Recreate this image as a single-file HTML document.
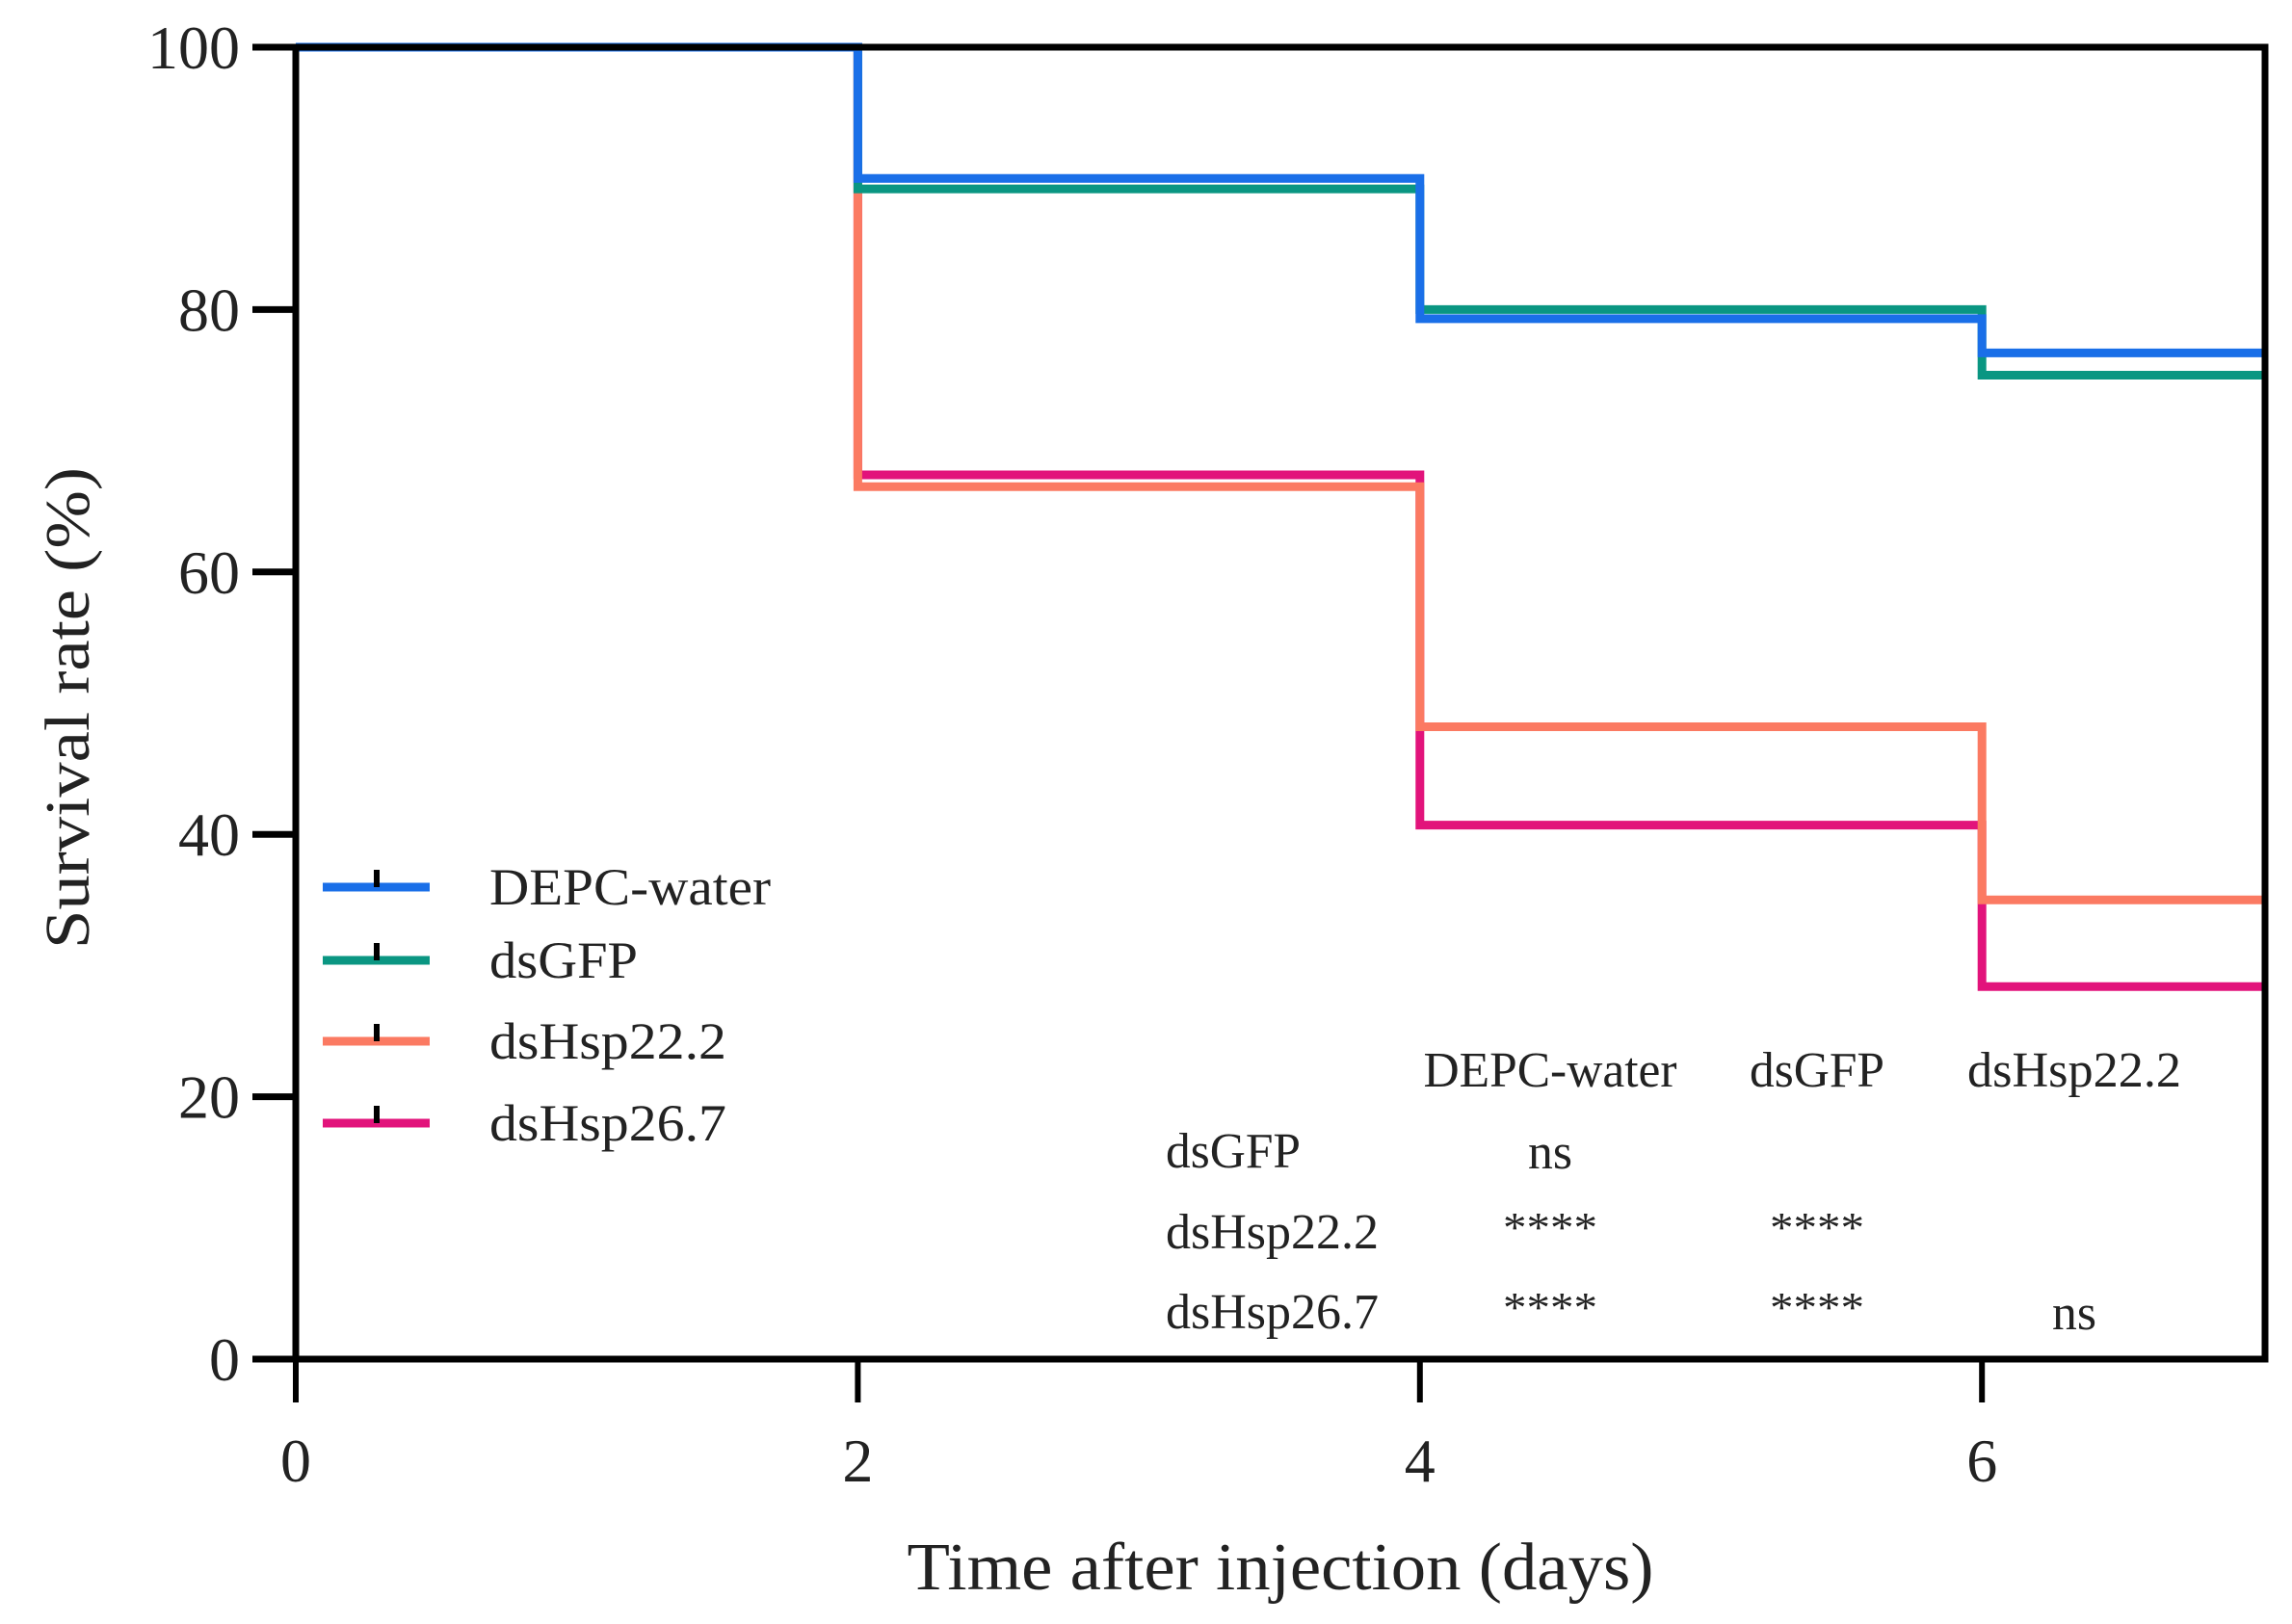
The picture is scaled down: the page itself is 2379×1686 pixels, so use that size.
<!DOCTYPE html>
<html><head><meta charset="utf-8"><style>
html,body{margin:0;padding:0;background:#fff;}
svg{display:block;font-family:"Liberation Serif",serif;}
</style></head><body>
<svg id="chart" width="2379" height="1686" viewBox="0 0 2379 1686" xmlns="http://www.w3.org/2000/svg">
<g id="series"></g>
<g id="axes"></g>
<g id="legend"></g>
<g id="stats"></g>
</svg>
<script>
const times = [0, 2, 4, 6, 7];
const seriesNames = ["DEPC-water", "dsGFP", "dsHsp22.2", "dsHsp26.7"];
const depcValues = [100, 90, 79.3, 76.7];
const gfpValues = [100, 89.2, 80, 75];
const hsp222Values = [100, 66.5, 48.2, 35];
const hsp267Values = [100, 67.4, 40.7, 28.4];
const seriesColors = ["#1a6fe8", "#0a9682", "#fb7a62", "#e2137b"];
const xTicks = [0, 2, 4, 6];
const yTicks = [0, 20, 40, 60, 80, 100];
const tableCols = ["DEPC-water", "dsGFP", "dsHsp22.2"];
const tableRows = ["dsGFP", "dsHsp22.2", "dsHsp26.7"];
const tableCells = [["ns", "", ""], ["****", "****", ""], ["****", "****", "ns"]];

const NS = "http://www.w3.org/2000/svg";
const X0 = 307, X1 = 2351, Y0 = 1411, Y1 = 49;
const xScale = t => X0 + t * 291.7;
const yScale = v => Y0 - v / 100 * (Y0 - Y1);
function mk(tag, attrs, parent) { const e = document.createElementNS(NS, tag); for (const k in attrs) e.setAttribute(k, attrs[k]); parent.appendChild(e); return e; }

const allVals = [depcValues, gfpValues, hsp222Values, hsp267Values];
const gS = document.getElementById("series");
[3, 2, 1, 0].forEach(i => {
  const v = allVals[i];
  let d = `M${xScale(times[0])},${yScale(v[0])}`;
  for (let k = 1; k < times.length; k++) {
    d += ` H${Math.min(xScale(times[k]), X1)}`;
    if (k < v.length) d += ` V${yScale(v[k])}`;
  }
  const p = mk("path", { d: d, fill: "none", stroke: seriesColors[i], "stroke-width": 9 }, gS);
  
  
});

const gA = document.getElementById("axes");
const frame = mk("rect", { x: X0, y: Y1, width: X1 - X0, height: Y0 - Y1, fill: "none", stroke: "#000", "stroke-width": 7 }, gA);


yTicks.forEach(v => {
  const l = mk("line", { x1: 262, x2: X0, y1: yScale(v), y2: yScale(v), stroke: "#000", "stroke-width": 7 }, gA);
  
  
  const t = mk("text", { x: 249, y: yScale(v) + 22, "text-anchor": "end", "font-size": 64, fill: "#222" }, gA);
  t.textContent = v;
  
  
});
xTicks.forEach(v => {
  const l = mk("line", { x1: xScale(v), x2: xScale(v), y1: Y0, y2: 1456, stroke: "#000", "stroke-width": 6 }, gA);
  
  
  const t = mk("text", { x: xScale(v), y: 1538, "text-anchor": "middle", "font-size": 64, fill: "#222" }, gA);
  t.textContent = v;
  
  
});
const xt = mk("text", { x: 1329, y: 1650, "text-anchor": "middle", "font-size": 70, fill: "#222", textLength: 775, lengthAdjust: "spacingAndGlyphs" }, gA);
xt.textContent = "Time after injection (days)";


const yt = mk("text", { x: 0, y: 0, "text-anchor": "middle", "font-size": 66, fill: "#222", transform: "translate(92,735) rotate(-90)", textLength: 500, lengthAdjust: "spacingAndGlyphs" }, gA);
yt.textContent = "Survival rate (%)";



const gL = document.getElementById("legend");
const legY = [921, 997, 1081, 1166];
const legW = [292, 154, 246, 246];
seriesNames.forEach((n, i) => {
  const g = mk("g", {}, gL);
  
  
  mk("line", { x1: 335, x2: 446, y1: legY[i], y2: legY[i], stroke: seriesColors[i], "stroke-width": 9 }, g);
  mk("line", { x1: 391, x2: 391, y1: legY[i] - 18, y2: legY[i], stroke: "#000", "stroke-width": 6 }, g);
  const t = mk("text", { x: 508, y: legY[i] + 18, "font-size": 54, fill: "#222", textLength: legW[i], lengthAdjust: "spacingAndGlyphs" }, g);
  t.textContent = n;
});

const gT = document.getElementById("stats");
const colX = [1609, 1886, 2153], colW = [263, 140, 222];
const rowY = [1195, 1279, 1362], rowW = [140, 221, 221];
tableCols.forEach((c, i) => {
  const t = mk("text", { x: colX[i], y: 1128, "text-anchor": "middle", "font-size": 52, fill: "#222", textLength: colW[i], lengthAdjust: "spacingAndGlyphs" }, gT);
  t.textContent = c;
  
  
});
tableRows.forEach((r, j) => {
  const t = mk("text", { x: 1210, y: rowY[j] + 17, "font-size": 52, fill: "#222", textLength: rowW[j], lengthAdjust: "spacingAndGlyphs" }, gT);
  t.textContent = r;
  
  
  tableCells[j].forEach((c, i) => {
    if (!c) return;
    const star = c.indexOf("*") >= 0;
    const t2 = mk("text", { x: colX[i], y: star ? rowY[j] + 10 : rowY[j] + 18, "text-anchor": "middle", "font-size": star ? 44 : 52, fill: "#222", textLength: star ? 98 : 46, lengthAdjust: "spacingAndGlyphs" }, gT);
    t2.textContent = c;
    
    
  });
});
</script>
</body></html>
